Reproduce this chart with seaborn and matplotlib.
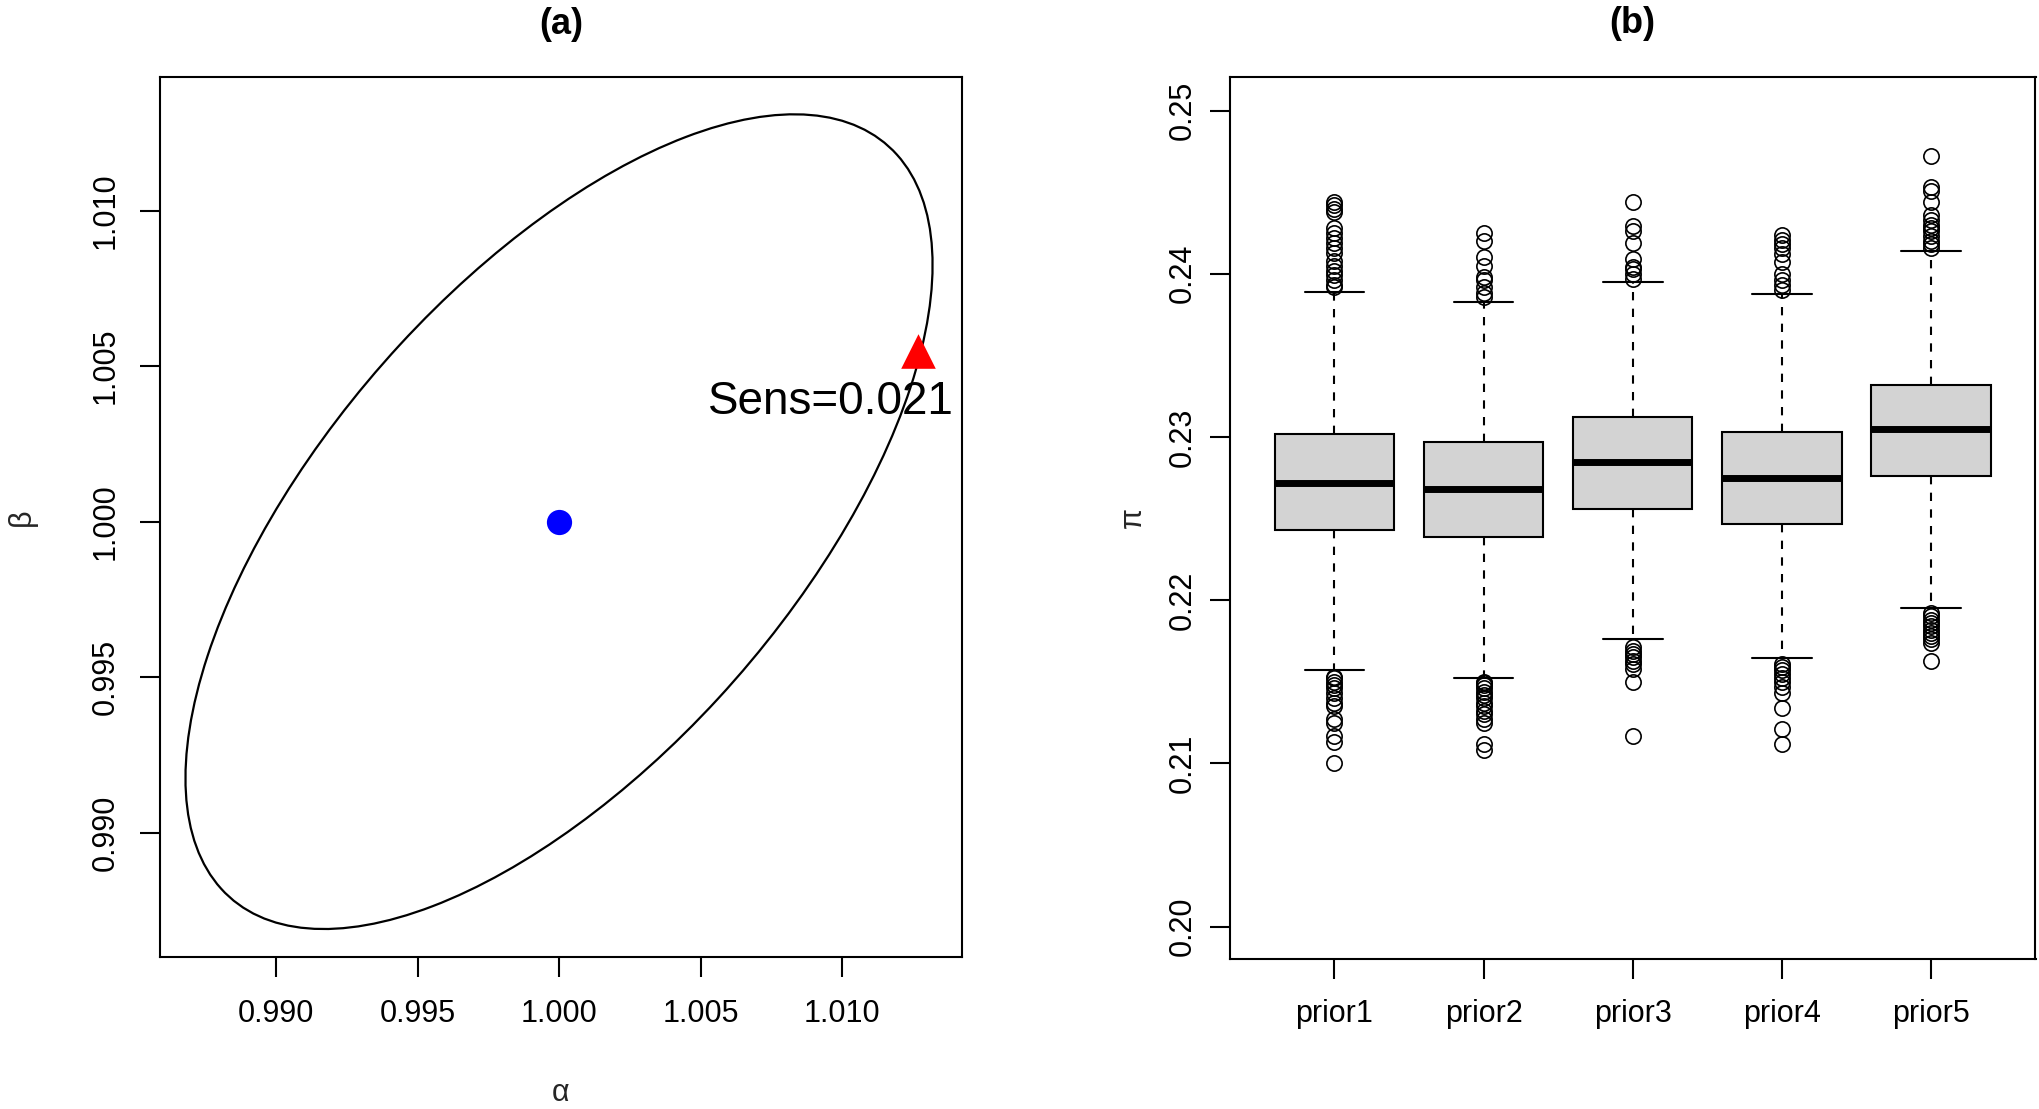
import numpy as np
import pandas as pd
import matplotlib
matplotlib.use("Agg")
import matplotlib.pyplot as plt
from matplotlib.patches import Ellipse
import seaborn as sns

# ---------------- data ----------------
# panel (a): confidence ellipse summary (centre, half extents along x / y, correlation)
ellipse_center = (1.0, 1.0)
ellipse_half_x = 0.0132
ellipse_half_y = 0.0131
ellipse_corr = 0.63
centre_point_x = [1.000]
centre_point_y = [1.000]
sens_point_x = [1.0127]
sens_point_y = [1.0055]
sens_label = "Sens=0.021"
sens_label_pos = (1.0096, 1.00385)
a_xticks = [0.990, 0.995, 1.000, 1.005, 1.010]
a_yticks = [0.990, 0.995, 1.000, 1.005, 1.010]

# panel (b): box-plot summaries per prior
priors = ["prior1", "prior2", "prior3", "prior4", "prior5"]
q1s = [0.22427, 0.22385, 0.22559, 0.22464, 0.22763]
medians = [0.22717, 0.22682, 0.22845, 0.22748, 0.23047]
q3s = [0.23017, 0.22972, 0.23120, 0.23032, 0.23318]
whisk_lo = [0.21569, 0.21526, 0.21761, 0.21643, 0.21955]
whisk_hi = [0.23890, 0.23826, 0.23950, 0.23879, 0.24140]
upper_out = [
    [0.2444, 0.2442, 0.2440, 0.2438, 0.2428, 0.2425, 0.2422, 0.2419, 0.2416,
     0.2413, 0.2408, 0.2405, 0.2402, 0.2399, 0.2396, 0.2393, 0.2392],
    [0.2425, 0.2420, 0.2410, 0.2405, 0.2398, 0.2396, 0.2392, 0.2388, 0.2386],
    [0.2444, 0.2429, 0.2426, 0.2419, 0.2409, 0.2404, 0.2403, 0.2400, 0.2397],
    [0.2424, 0.2421, 0.2418, 0.2416, 0.2412, 0.2407, 0.2400, 0.2396, 0.2393, 0.2390],
    [0.2472, 0.2453, 0.2451, 0.2444, 0.2436, 0.2433, 0.2430, 0.2428, 0.2426,
     0.2423, 0.2420, 0.2418, 0.2416],
]
lower_out = [
    [0.2153, 0.2152, 0.2150, 0.2148, 0.2146, 0.2143, 0.2140, 0.2137, 0.2135,
     0.2127, 0.2125, 0.2117, 0.2113, 0.2100],
    [0.2150, 0.2149, 0.2148, 0.2146, 0.2144, 0.2142, 0.2140, 0.2137, 0.2135,
     0.2132, 0.2130, 0.2127, 0.2125, 0.2112, 0.2108],
    [0.2171, 0.2169, 0.2167, 0.2165, 0.2163, 0.2161, 0.2158, 0.2150, 0.2117],
    [0.2161, 0.2159, 0.2157, 0.2155, 0.2152, 0.2150, 0.2147, 0.2143, 0.2134,
     0.2121, 0.2112],
    [0.2192, 0.2190, 0.2188, 0.2186, 0.2184, 0.2182, 0.2180, 0.2178, 0.2176,
     0.2174, 0.2163],
]
b_yticks = [0.20, 0.21, 0.22, 0.23, 0.24, 0.25]

# ---------------- style ----------------
sns.set_theme(style="ticks")
plt.rcParams["font.family"] = ["Liberation Sans", "DejaVu Sans"]
plt.rcParams["axes.edgecolor"] = "black"
plt.rcParams["axes.linewidth"] = 1.5
plt.rcParams["xtick.color"] = "black"
plt.rcParams["ytick.color"] = "black"
plt.rcParams["text.color"] = "black"

FS = 22
fig = plt.figure(figsize=(20.4, 11.09), dpi=100)
axA = fig.add_axes([160 / 2040, 1 - 957 / 1109, (962 - 160) / 2040, (957 - 77) / 1109])
axB = fig.add_axes([1230 / 2040, 1 - 959 / 1109, (2035.5 - 1230) / 2040, (959 - 77) / 1109])

# ---------------- panel (a) ----------------
cov = np.array([[ellipse_half_x ** 2, ellipse_corr * ellipse_half_x * ellipse_half_y],
                [ellipse_corr * ellipse_half_x * ellipse_half_y, ellipse_half_y ** 2]])
evals, evecs = np.linalg.eigh(cov)
major = evecs[:, 1]
ang = np.degrees(np.arctan2(major[1], major[0]))
ell = Ellipse(ellipse_center, 2 * np.sqrt(evals[1]), 2 * np.sqrt(evals[0]), angle=ang,
              facecolor="none", edgecolor="black", linewidth=1.6, zorder=2)
axA.add_patch(ell)

sns.scatterplot(x=centre_point_x, y=centre_point_y, ax=axA, color="blue", s=330,
                marker="o", edgecolor="blue", linewidth=0, zorder=3)
sns.scatterplot(x=sens_point_x, y=sens_point_y, ax=axA, color="red", s=620,
                marker="^", edgecolor="red", linewidth=0, zorder=3)
axA.text(sens_label_pos[0], sens_label_pos[1], sens_label, ha="center", va="center",
         fontsize=33, zorder=4)

axA.set_xlim(0.9859, 1.01424)
axA.set_ylim(0.9860, 1.0143)
axA.set_xticks(a_xticks)
axA.set_xticklabels([f"{v:.3f}" for v in a_xticks])
axA.set_yticks(a_yticks)
axA.set_yticklabels([f"{v:.3f}" for v in a_yticks], rotation=90, va="center")
axA.tick_params(axis="both", length=14.5, width=1.5, labelsize=FS, direction="out")
axA.tick_params(axis="x", pad=16)
axA.tick_params(axis="y", pad=14)
axA.set_xlabel("α", fontsize=FS)
axA.xaxis.set_label_coords(0.5, (957 - 1093) / 880)
axA.xaxis.label.set_va("center")
axA.set_ylabel("β", fontsize=FS)
axA.yaxis.set_label_coords((22 - 160) / 802, 0.5)
axA.yaxis.label.set_va("center")
axA.text(0.5, 1 + (77 - 24) / 880, "(a)", transform=axA.transAxes, ha="center",
         va="center", fontsize=26, fontweight="bold")

# ---------------- panel (b) ----------------
m = 200
rows = []
for i, p in enumerate(priors):
    vals = (lower_out[i] + [whisk_lo[i]] + [q1s[i]] * m + [medians[i]] * m
            + [q3s[i]] * m + [whisk_hi[i]] + upper_out[i])
    rows.append(pd.DataFrame({"prior": p, "value": vals}))
df = pd.concat(rows, ignore_index=True)

sns.boxplot(data=df, x="prior", y="value", order=priors, ax=axB, color="#D3D3D3",
            saturation=1, linecolor="black", linewidth=1.5, width=0.8, whis=1.5,
            fliersize=11,
            flierprops={"marker": "o", "markerfacecolor": "none",
                        "markeredgecolor": "black", "markeredgewidth": 1.2},
            whiskerprops={"linestyle": (0, (4, 4))},
            medianprops={"linewidth": 5})

axB.set_xlim(-0.7, 4.7)
axB.set_ylim(0.19801, 0.25206)
axB.set_yticks(b_yticks)
axB.set_yticklabels([f"{v:.2f}" for v in b_yticks], rotation=90, va="center")
axB.tick_params(axis="both", length=14.5, width=1.5, labelsize=FS, direction="out")
axB.tick_params(axis="x", pad=14)
axB.tick_params(axis="y", pad=9)
axB.set_xlabel("")
axB.set_ylabel("π", fontsize=FS)
axB.yaxis.set_label_coords((1133 - 1230) / 805.5, 0.5)
axB.yaxis.label.set_va("center")
axB.text(0.5, 1 + (77 - 24) / 882, "(b)", transform=axB.transAxes, ha="center",
         va="center", fontsize=26, fontweight="bold")

for ax in (axA, axB):
    for s in ax.spines.values():
        s.set_visible(True)
        s.set_color("black")
        s.set_linewidth(1.5)

fig.savefig("out.png", dpi=100, facecolor="white")
